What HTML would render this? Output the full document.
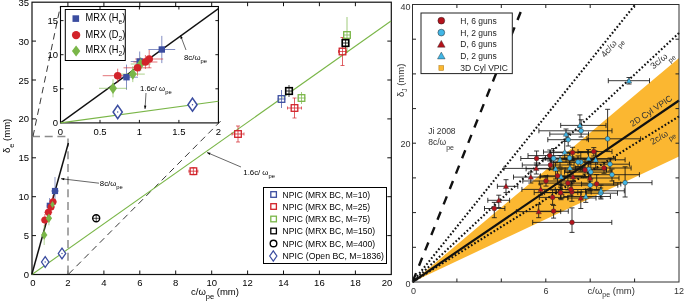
<!DOCTYPE html>
<html><head><meta charset="utf-8"><style>
html,body{margin:0;padding:0;background:#fff;}
svg{display:block;will-change:transform;font-family:"Liberation Sans",sans-serif;}
</style></head><body>
<svg width="685" height="302" viewBox="0 0 685 302">
<rect width="685" height="302" fill="#fff"/>
<rect x="32" y="2.2" width="359.3" height="272.3" fill="#fff" stroke="#111" stroke-width="1.2"/>
<path d="M67.9 274.5v-4M67.9 2.2v4" stroke="#111" stroke-width="1"/>
<path d="M103.9 274.5v-4M103.9 2.2v4" stroke="#111" stroke-width="1"/>
<path d="M139.8 274.5v-4M139.8 2.2v4" stroke="#111" stroke-width="1"/>
<path d="M175.7 274.5v-4M175.7 2.2v4" stroke="#111" stroke-width="1"/>
<path d="M211.7 274.5v-4M211.7 2.2v4" stroke="#111" stroke-width="1"/>
<path d="M247.6 274.5v-4M247.6 2.2v4" stroke="#111" stroke-width="1"/>
<path d="M283.5 274.5v-4M283.5 2.2v4" stroke="#111" stroke-width="1"/>
<path d="M319.4 274.5v-4M319.4 2.2v4" stroke="#111" stroke-width="1"/>
<path d="M355.4 274.5v-4M355.4 2.2v4" stroke="#111" stroke-width="1"/>
<path d="M32 235.6h4M391.3 235.6h-4" stroke="#111" stroke-width="1"/>
<path d="M32 196.7h4M391.3 196.7h-4" stroke="#111" stroke-width="1"/>
<path d="M32 157.8h4M391.3 157.8h-4" stroke="#111" stroke-width="1"/>
<path d="M32 118.9h4M391.3 118.9h-4" stroke="#111" stroke-width="1"/>
<path d="M32 80.0h4M391.3 80.0h-4" stroke="#111" stroke-width="1"/>
<path d="M32 41.1h4M391.3 41.1h-4" stroke="#111" stroke-width="1"/>
<text x="33.0" y="285.5" font-size="9.5" text-anchor="middle">0</text>
<text x="67.9" y="285.5" font-size="9.5" text-anchor="middle">2</text>
<text x="103.9" y="285.5" font-size="9.5" text-anchor="middle">4</text>
<text x="139.8" y="285.5" font-size="9.5" text-anchor="middle">6</text>
<text x="175.7" y="285.5" font-size="9.5" text-anchor="middle">8</text>
<text x="211.7" y="285.5" font-size="9.5" text-anchor="middle">10</text>
<text x="247.6" y="285.5" font-size="9.5" text-anchor="middle">12</text>
<text x="283.5" y="285.5" font-size="9.5" text-anchor="middle">14</text>
<text x="319.4" y="285.5" font-size="9.5" text-anchor="middle">16</text>
<text x="355.4" y="285.5" font-size="9.5" text-anchor="middle">18</text>
<text x="387.0" y="285.5" font-size="9.5" text-anchor="middle">20</text>
<text x="29" y="278.0" font-size="9.5" text-anchor="end">0</text>
<text x="29" y="239.1" font-size="9.5" text-anchor="end">5</text>
<text x="29" y="200.2" font-size="9.5" text-anchor="end">10</text>
<text x="29" y="161.3" font-size="9.5" text-anchor="end">15</text>
<text x="29" y="122.4" font-size="9.5" text-anchor="end">20</text>
<text x="29" y="83.5" font-size="9.5" text-anchor="end">25</text>
<text x="29" y="44.6" font-size="9.5" text-anchor="end">30</text>
<text x="29" y="5.7" font-size="9.5" text-anchor="end">35</text>
<text x="191" y="295" font-size="9.5">c/ω<tspan dy="4" font-size="7.5">pe</tspan><tspan dy="-4"> (mm)</tspan></text>
<text transform="translate(10,153) rotate(-90)" font-size="9.5">δ<tspan dy="4" font-size="7.5">e</tspan><tspan dy="-4"> (mm)</tspan></text>
<path d="M32 136.4H68V274" fill="none" stroke="#8c8c8c" stroke-width="1.5" stroke-dasharray="8 4.7"/>
<path d="M33 136.4L60.3 6.6" fill="none" stroke="#222" stroke-width="0.9" stroke-dasharray="6.5 4.5"/>
<path d="M68.7 274L222.5 119.2" fill="none" stroke="#222" stroke-width="0.9" stroke-dasharray="6.5 4.5"/>
<path d="M32 274.5L391 21" stroke="#7ab648" stroke-width="1.1" fill="none"/>
<path d="M31.8 274.5L68.4 143" stroke="#111" stroke-width="1.5" fill="none"/>
<path d="M51.0 191.0H59.0M55.0 177.0V205.0" stroke="#3b4da0" stroke-width="0.7" opacity="0.8" fill="none"/>
<path d="M46.5 206.0H52.5M49.5 198.0V214.0" stroke="#3b4da0" stroke-width="0.7" opacity="0.8" fill="none"/>
<path d="M49.0 202.0H57.0M53.0 195.0V209.0" stroke="#d2232a" stroke-width="0.7" opacity="0.8" fill="none"/>
<path d="M47.0 207.0H55.0M51.0 201.0V213.0" stroke="#d2232a" stroke-width="0.7" opacity="0.8" fill="none"/>
<path d="M44.3 212.3H52.3M48.3 206.3V218.3" stroke="#d2232a" stroke-width="0.7" opacity="0.8" fill="none"/>
<path d="M40.8 220.0H48.8M44.8 214.0V226.0" stroke="#d2232a" stroke-width="0.7" opacity="0.8" fill="none"/>
<path d="M41.2 235.0H47.2M44.2 225.0V245.0" stroke="#7ab648" stroke-width="0.7" opacity="0.8" fill="none"/>
<path d="M45.9 218.3H51.9M48.9 211.3V225.3" stroke="#7ab648" stroke-width="0.7" opacity="0.8" fill="none"/>
<path d="M51.0 204.0H55.0M53.0 198.0V210.0" stroke="#7ab648" stroke-width="0.7" opacity="0.8" fill="none"/>
<rect x="51.9" y="187.9" width="6.2" height="6.2" fill="#3b4da0"/>
<rect x="46.7" y="202.7" width="5.6" height="5.6" fill="#3b4da0"/>
<circle cx="53.0" cy="201.8" r="3.5" fill="#d2232a"/>
<circle cx="51.0" cy="207.0" r="3.5" fill="#d2232a"/>
<circle cx="48.3" cy="212.3" r="3.5" fill="#d2232a"/>
<circle cx="44.8" cy="220.0" r="3.5" fill="#d2232a"/>
<path d="M44.2 230.2l3.1 4.8l-3.1 4.8l-3.1 -4.8z" fill="#7ab648"/>
<path d="M48.9 213.5l3.1 4.8l-3.1 4.8l-3.1 -4.8z" fill="#7ab648"/>
<path d="M52.5 201.0l2.2 3.5l-2.2 3.5l-2.2 -3.5z" fill="#7ab648"/>
<path d="M45.2 256.7l3.7 5.3l-3.7 5.3l-3.7 -5.3z" fill="#fff" stroke="#3b4da0" stroke-width="1.3"/>
<circle cx="45.2" cy="262.0" r="0.7" fill="#3b4da0"/>
<path d="M62.0 248.2l3.7 5.3l-3.7 5.3l-3.7 -5.3z" fill="#fff" stroke="#3b4da0" stroke-width="1.3"/>
<circle cx="62.0" cy="253.5" r="0.7" fill="#3b4da0"/>
<circle cx="96.2" cy="218.3" r="3.5" fill="#fff" stroke="#000" stroke-width="1.4"/><path d="M92.7 218.3h7M96.2 214.8v7" stroke="#000" stroke-width="0.7"/>
<path d="M188.9 171.2H197.9M193.4 167.7V174.7" stroke="#d2232a" stroke-width="0.8" opacity="0.9" fill="none"/>
<path d="M191.4 174.7h4M191.4 167.7h4M188.9 169.7v3M197.9 169.7v3" stroke="#d2232a" stroke-width="0.7"/>
<path d="M232.0 134.0H244.0M238.0 126.0V142.0" stroke="#d2232a" stroke-width="0.8" opacity="0.9" fill="none"/>
<path d="M236 142h4M236 126h4M232 132.5v3M244 132.5v3" stroke="#d2232a" stroke-width="0.7"/>
<path d="M277.5 99.0H285.5M281.5 90.0V108.0" stroke="#3b4da0" stroke-width="0.8" opacity="0.9" fill="none"/>
<path d="M287.5 108.0H301.5M294.5 98.0V118.0" stroke="#d2232a" stroke-width="0.8" opacity="0.9" fill="none"/>
<path d="M292.5 118h4M292.5 98h4M287.5 106.5v3M301.5 106.5v3" stroke="#d2232a" stroke-width="0.7"/>
<path d="M297.5 98.0H305.5M301.5 92.0V104.0" stroke="#7ab648" stroke-width="0.8" opacity="0.9" fill="none"/>
<path d="M286.0 91.0H292.0M289.0 85.0V97.0" stroke="#000" stroke-width="0.8" opacity="0.9" fill="none"/>
<path d="M338.5 51.5H346.5M342.5 37.5V65.5" stroke="#d2232a" stroke-width="0.8" opacity="0.9" fill="none"/>
<path d="M340.5 65.5h4M340.5 37.5h4M338.5 50.0v3M346.5 50.0v3" stroke="#d2232a" stroke-width="0.7"/>
<path d="M344.0 35.0H350.0M347.0 17.0V53.0" stroke="#7ab648" stroke-width="0.8" opacity="0.9" fill="none"/>
<path d="M342.5 43.0H348.5M345.5 38.0V48.0" stroke="#000" stroke-width="0.8" opacity="0.9" fill="none"/>
<rect x="190.1" y="167.9" width="6.6" height="6.6" fill="#fff" fill-opacity="0.6" stroke="#d2232a" stroke-width="1.3"/>
<path d="M190.1 171.2h6.6M193.4 167.9v6.6" stroke="#d2232a" stroke-width="0.6"/>
<rect x="234.7" y="130.7" width="6.6" height="6.6" fill="#fff" fill-opacity="0.6" stroke="#d2232a" stroke-width="1.3"/>
<path d="M234.7 134.0h6.6M238.0 130.7v6.6" stroke="#d2232a" stroke-width="0.6"/>
<rect x="278.2" y="95.7" width="6.6" height="6.6" fill="#fff" fill-opacity="0.6" stroke="#3b4da0" stroke-width="1.3"/>
<path d="M278.2 99.0h6.6M281.5 95.7v6.6" stroke="#3b4da0" stroke-width="0.6"/>
<rect x="291.2" y="104.7" width="6.6" height="6.6" fill="#fff" fill-opacity="0.6" stroke="#d2232a" stroke-width="1.3"/>
<path d="M291.2 108.0h6.6M294.5 104.7v6.6" stroke="#d2232a" stroke-width="0.6"/>
<rect x="298.2" y="94.7" width="6.6" height="6.6" fill="#fff" fill-opacity="0.6" stroke="#7ab648" stroke-width="1.3"/>
<path d="M298.2 98.0h6.6M301.5 94.7v6.6" stroke="#7ab648" stroke-width="0.6"/>
<rect x="285.7" y="87.7" width="6.6" height="6.6" fill="#fff" fill-opacity="0.6" stroke="#000" stroke-width="1.6"/>
<path d="M285.7 91.0h6.6M289.0 87.7v6.6" stroke="#000" stroke-width="0.6"/>
<rect x="339.2" y="48.2" width="6.6" height="6.6" fill="#fff" fill-opacity="0.6" stroke="#d2232a" stroke-width="1.3"/>
<path d="M339.2 51.5h6.6M342.5 48.2v6.6" stroke="#d2232a" stroke-width="0.6"/>
<rect x="343.7" y="31.7" width="6.6" height="6.6" fill="#fff" fill-opacity="0.6" stroke="#7ab648" stroke-width="1.3"/>
<path d="M343.7 35.0h6.6M347.0 31.7v6.6" stroke="#7ab648" stroke-width="0.6"/>
<rect x="342.2" y="39.7" width="6.6" height="6.6" fill="#fff" fill-opacity="0.6" stroke="#000" stroke-width="1.6"/>
<path d="M342.2 43.0h6.6M345.5 39.7v6.6" stroke="#000" stroke-width="0.6"/>
<path d="M99.0 183.2L61.0 178.7" stroke="#000" stroke-width="0.6"/>
<path d="M61.0 178.7L64.4 177.9L64.1 180.3z" fill="#000"/>
<text x="99.8" y="186" font-size="7.8">8c/ω<tspan dy="3" font-size="5.8">pe</tspan></text>
<path d="M241.0 167.0L207.0 152.5" stroke="#000" stroke-width="0.6"/>
<path d="M207.0 152.5L210.5 152.7L209.6 154.9z" fill="#000"/>
<text x="243.3" y="174.5" font-size="7.8">1.6c/ ω<tspan dy="3" font-size="5.8">pe</tspan></text>
<rect x="263.5" y="187.5" width="123" height="76" fill="#fff" stroke="#000" stroke-width="1"/>
<rect x="270.8" y="191.7" width="5.6" height="5.6" fill="#fff" stroke="#3b4da0" stroke-width="1.3"/>
<text x="282.5" y="197.7" font-size="9" textLength="87.5" lengthAdjust="spacingAndGlyphs">NPIC (MRX BC, M=10)</text>
<rect x="270.8" y="203.7" width="5.6" height="5.6" fill="#fff" stroke="#d2232a" stroke-width="1.3"/>
<text x="282.5" y="209.7" font-size="9" textLength="87.5" lengthAdjust="spacingAndGlyphs">NPIC (MRX BC, M=25)</text>
<rect x="270.8" y="216.2" width="5.6" height="5.6" fill="#fff" stroke="#7ab648" stroke-width="1.3"/>
<text x="282.5" y="222.2" font-size="9" textLength="87.5" lengthAdjust="spacingAndGlyphs">NPIC (MRX BC, M=75)</text>
<rect x="270.8" y="228.2" width="5.6" height="5.6" fill="#fff" stroke="#000" stroke-width="1.3"/>
<text x="282.5" y="234.2" font-size="9" textLength="92.5" lengthAdjust="spacingAndGlyphs">NPIC (MRX BC, M=150)</text>
<circle cx="273.5" cy="243.5" r="3.3" fill="#fff" stroke="#000" stroke-width="1.4"/>
<text x="282.5" y="246.7" font-size="9" textLength="92.5" lengthAdjust="spacingAndGlyphs">NPIC (MRX BC, M=400)</text>
<path d="M273.3 250.9l3.6 5.1l-3.6 5.1l-3.6 -5.1z" fill="#fff" stroke="#3b4da0" stroke-width="1.2"/>
<text x="282.5" y="259.2" font-size="9" textLength="101.5" lengthAdjust="spacingAndGlyphs">NPIC (Open BC, M=1836)</text>
<rect x="60.5" y="6.5" width="157.9" height="116.4" fill="#fff" stroke="#000" stroke-width="1.1"/>
<path d="M100.0 122.9v-3M100.0 6.5v3" stroke="#000" stroke-width="0.9"/>
<path d="M139.4 122.9v-3M139.4 6.5v3" stroke="#000" stroke-width="0.9"/>
<path d="M178.9 122.9v-3M178.9 6.5v3" stroke="#000" stroke-width="0.9"/>
<path d="M60.5 88.8h3M218.4 88.8h-3" stroke="#000" stroke-width="0.9"/>
<path d="M60.5 54.7h3M218.4 54.7h-3" stroke="#000" stroke-width="0.9"/>
<path d="M60.5 20.6h3M218.4 20.6h-3" stroke="#000" stroke-width="0.9"/>
<text x="60.5" y="134.5" font-size="9.5" text-anchor="middle">0</text>
<text x="100.0" y="134.5" font-size="9.5" text-anchor="middle">0.5</text>
<text x="139.4" y="134.5" font-size="9.5" text-anchor="middle">1</text>
<text x="178.9" y="134.5" font-size="9.5" text-anchor="middle">1.5</text>
<text x="218.4" y="134.5" font-size="9.5" text-anchor="middle">2</text>
<text x="58" y="126.2" font-size="9.5" text-anchor="end">0</text>
<text x="58" y="92.1" font-size="9.5" text-anchor="end">5</text>
<text x="58" y="58.0" font-size="9.5" text-anchor="end">10</text>
<text x="58" y="23.9" font-size="9.5" text-anchor="end">15</text>
<path d="M60.5 122.9L218.4 8.6" stroke="#111" stroke-width="1.3"/>
<path d="M60.5 122.9L218.4 101.3" stroke="#7ab648" stroke-width="1.1"/>
<path d="M148.4 49.5H175.2M161.8 35.9V63.1" stroke="#3b4da0" stroke-width="0.9" opacity="0.7" fill="none"/>
<path d="M115.0 77.2H138.0M126.5 64.6V89.8" stroke="#3b4da0" stroke-width="0.9" opacity="0.7" fill="none"/>
<path d="M130.7 61.5H148.7M139.7 51.5V71.5" stroke="#3b4da0" stroke-width="0.9" opacity="0.7" fill="none"/>
<path d="M102.7 75.7H132.7M117.7 68.7V82.7" stroke="#d2232a" stroke-width="0.9" opacity="0.7" fill="none"/>
<path d="M123.5 67.8H151.5M137.5 59.8V75.8" stroke="#d2232a" stroke-width="0.9" opacity="0.7" fill="none"/>
<path d="M135.2 59.0H163.2M149.2 50.0V68.0" stroke="#d2232a" stroke-width="0.9" opacity="0.7" fill="none"/>
<path d="M133.4 62.0H157.4M145.4 55.0V69.0" stroke="#d2232a" stroke-width="0.9" opacity="0.7" fill="none"/>
<path d="M99.0 88.3H127.0M113.0 79.3V97.3" stroke="#7ab648" stroke-width="0.9" opacity="0.7" fill="none"/>
<path d="M120.8 74.1H144.8M132.8 66.1V82.1" stroke="#7ab648" stroke-width="0.9" opacity="0.7" fill="none"/>
<path d="M130.7 64.0H150.7M140.7 57.0V71.0" stroke="#7ab648" stroke-width="0.9" opacity="0.7" fill="none"/>
<rect x="158.6" y="46.3" width="6.4" height="6.4" fill="#3b4da0"/>
<rect x="123.3" y="74.0" width="6.4" height="6.4" fill="#3b4da0"/>
<rect x="136.5" y="58.3" width="6.4" height="6.4" fill="#3b4da0"/>
<path d="M113.0 82.7l4.0 5.6l-4.0 5.6l-4.0 -5.6z" fill="#7ab648"/>
<path d="M132.8 68.5l4.0 5.6l-4.0 5.6l-4.0 -5.6z" fill="#7ab648"/>
<path d="M140.7 58.4l4.0 5.6l-4.0 5.6l-4.0 -5.6z" fill="#7ab648"/>
<circle cx="117.7" cy="75.7" r="3.8" fill="#d2232a"/>
<circle cx="137.5" cy="67.8" r="3.8" fill="#d2232a"/>
<circle cx="149.2" cy="59.0" r="3.8" fill="#d2232a"/>
<circle cx="145.4" cy="62.0" r="3.8" fill="#d2232a"/>
<path d="M117.7 105.4l4.6 6.6l-4.6 6.6l-4.6 -6.6z" fill="#fff" stroke="#3b4da0" stroke-width="1.5"/>
<circle cx="117.7" cy="112.0" r="0.7" fill="#3b4da0"/>
<path d="M192.5 98.1l4.6 6.6l-4.6 6.6l-4.6 -6.6z" fill="#fff" stroke="#3b4da0" stroke-width="1.5"/>
<circle cx="192.5" cy="104.7" r="0.7" fill="#3b4da0"/>
<rect x="65.3" y="9.5" width="60" height="51" fill="#fff" stroke="#000" stroke-width="1"/>
<rect x="72.5" y="15.3" width="6.6" height="6.6" fill="#3b4da0"/>
<circle cx="76.1" cy="35.1" r="4.2" fill="#d2232a"/>
<path d="M76.1 45.4l4.2 5.5l-4.2 5.5l-4.2 -5.5z" fill="#7ab648"/>
<text transform="translate(85.5,21.2) scale(0.9,1)" font-size="10.3">MRX (H<tspan dy="3" font-size="7.5">e</tspan><tspan dy="-3">)</tspan></text>
<text transform="translate(85.5,37.5) scale(0.9,1)" font-size="10.3">MRX (D<tspan dy="3" font-size="7.5">2</tspan><tspan dy="-3">)</tspan></text>
<text transform="translate(85.5,53.4) scale(0.9,1)" font-size="10.3">MRX (H<tspan dy="3" font-size="7.5">2</tspan><tspan dy="-3">)</tspan></text>
<path d="M186.0 50.0L180.5 35.5" stroke="#000" stroke-width="0.6"/>
<path d="M180.5 35.5L182.8 38.1L180.5 39.0z" fill="#000"/>
<text x="184" y="60" font-size="7.8">8c/ω<tspan dy="3" font-size="5.8">pe</tspan></text>
<path d="M146.0 93.0L145.0 109.0" stroke="#000" stroke-width="0.6"/>
<path d="M145.0 109.0L144.0 105.6L146.4 105.8z" fill="#000"/>
<text x="140" y="90.5" font-size="7.8">1.6c/ ω<tspan dy="3" font-size="5.8">pe</tspan></text>
<rect x="412.5" y="4.5" width="266.5" height="277.5" fill="#fff"/>
<path d="M412.5 282L679 58L679 156.5z" fill="#fbb731"/>
<path d="M520.7 12L412.5 282" stroke="#111" stroke-width="2.4" stroke-dasharray="8.6 7.95" fill="none"/>
<path d="M634.5 5.5L412.5 282" stroke="#111" stroke-width="2.1" stroke-dasharray="1.7 2.1" fill="none"/>
<path d="M679 33L412.5 282" stroke="#111" stroke-width="2.1" stroke-dasharray="1.7 2.1" fill="none"/>
<path d="M679 116.4L412.5 282" stroke="#111" stroke-width="2.1" stroke-dasharray="1.7 2.1" fill="none"/>
<path d="M412.5 282L679 100.5" stroke="#111" stroke-width="2.2" fill="none"/>
<path d="M560.7 125.4H606.0M579.9 114.9V131.0M560.7 122.9v5M606.0 122.9v5M577.4 114.9h5M577.4 131.0h5" stroke="#151515" stroke-width="0.85" fill="none"/>
<path d="M538.9 130.8H612.0M581.1 119.8V137.0M538.9 128.3v5M612.0 128.3v5M578.6 119.8h5M578.6 137.0h5" stroke="#151515" stroke-width="0.85" fill="none"/>
<path d="M549.8 134.1H588.5M566.0 129.0V139.0M549.8 131.6v5M588.5 131.6v5M563.5 129.0h5M563.5 139.0h5" stroke="#151515" stroke-width="0.85" fill="none"/>
<path d="M547.8 139.7H588.5M568.2 133.0V146.0M547.8 137.2v5M588.5 137.2v5M565.7 133.0h5M565.7 146.0h5" stroke="#151515" stroke-width="0.85" fill="none"/>
<path d="M543.5 152.0H587.7M564.7 141.5V159.3M543.5 149.5v5M587.7 149.5v5M562.2 141.5h5M562.2 159.3h5" stroke="#151515" stroke-width="0.85" fill="none"/>
<path d="M550.5 152.6H596.0M572.6 147.3V160.2M550.5 150.1v5M596.0 150.1v5M570.1 147.3h5M570.1 160.2h5" stroke="#151515" stroke-width="0.85" fill="none"/>
<path d="M578.0 151.6H612.0M593.8 147.6V156.0M578.0 149.1v5M612.0 149.1v5M591.3 147.6h5M591.3 156.0h5" stroke="#151515" stroke-width="0.85" fill="none"/>
<path d="M528.0 155.6H570.0M549.8 150.0V161.0M528.0 153.1v5M570.0 153.1v5M547.3 150.0h5M547.3 161.0h5" stroke="#151515" stroke-width="0.85" fill="none"/>
<path d="M520.8 158.5H551.6M536.6 151.0V165.0M520.8 156.0v5M551.6 156.0v5M534.1 151.0h5M534.1 165.0h5" stroke="#151515" stroke-width="0.85" fill="none"/>
<path d="M545.5 158.0H596.3M569.6 153.3V164.1M545.5 155.5v5M596.3 155.5v5M567.1 153.3h5M567.1 164.1h5" stroke="#151515" stroke-width="0.85" fill="none"/>
<path d="M573.0 158.5H615.5M588.5 149.6V162.8M573.0 156.0v5M615.5 156.0v5M586.0 149.6h5M586.0 162.8h5" stroke="#151515" stroke-width="0.85" fill="none"/>
<path d="M566.0 159.8H625.1M595.7 151.2V168.1M566.0 157.3v5M625.1 157.3v5M593.2 151.2h5M593.2 168.1h5" stroke="#151515" stroke-width="0.85" fill="none"/>
<path d="M553.4 167.8H584.1M569.9 160.1V172.2M553.4 165.3v5M584.1 165.3v5M567.4 160.1h5M567.4 172.2h5" stroke="#151515" stroke-width="0.85" fill="none"/>
<path d="M543.0 159.8H577.9M560.0 155.6V167.0M543.0 157.3v5M577.9 157.3v5M557.5 155.6h5M557.5 167.0h5" stroke="#151515" stroke-width="0.85" fill="none"/>
<path d="M540.0 176.7H588.5M561.0 169.1V185.2M540.0 174.2v5M588.5 174.2v5M558.5 169.1h5M558.5 185.2h5" stroke="#151515" stroke-width="0.85" fill="none"/>
<path d="M563.8 196.5H610.4M585.8 189.3V202.4M563.8 194.0v5M610.4 194.0v5M583.3 189.3h5M583.3 202.4h5" stroke="#151515" stroke-width="0.85" fill="none"/>
<path d="M550.8 162.2H610.7M580.8 152.3V171.2M550.8 159.7v5M610.7 159.7v5M578.3 152.3h5M578.3 171.2h5" stroke="#151515" stroke-width="0.85" fill="none"/>
<path d="M569.8 169.4H606.5M588.8 163.4V173.9M569.8 166.9v5M606.5 166.9v5M586.3 163.4h5M586.3 173.9h5" stroke="#151515" stroke-width="0.85" fill="none"/>
<path d="M564.5 172.1H611.2M590.8 162.2V178.8M564.5 169.6v5M611.2 169.6v5M588.3 162.2h5M588.3 178.8h5" stroke="#151515" stroke-width="0.85" fill="none"/>
<path d="M588.0 164.2H629.4M610.0 158.0V171.0M588.0 161.7v5M629.4 161.7v5M607.5 158.0h5M607.5 171.0h5" stroke="#151515" stroke-width="0.85" fill="none"/>
<path d="M590.0 174.7H639.4M612.0 169.0V181.0M590.0 172.2v5M639.4 172.2v5M609.5 169.0h5M609.5 181.0h5" stroke="#151515" stroke-width="0.85" fill="none"/>
<path d="M613.6 182.7H652.0M625.1 166.8V197.0M613.6 180.2v5M652.0 180.2v5M622.6 166.8h5M622.6 197.0h5" stroke="#151515" stroke-width="0.85" fill="none"/>
<path d="M560.9 185.2H617.8M590.2 181.2V190.7M560.9 182.7v5M617.8 182.7v5M587.7 181.2h5M587.7 190.7h5" stroke="#151515" stroke-width="0.85" fill="none"/>
<path d="M586.3 193.2H617.5M600.7 188.0V198.0M586.3 190.7v5M617.5 190.7v5M598.2 188.0h5M598.2 198.0h5" stroke="#151515" stroke-width="0.85" fill="none"/>
<path d="M539.3 183.1H589.4M567.9 172.2V189.9M539.3 180.6v5M589.4 180.6v5M565.4 172.2h5M565.4 189.9h5" stroke="#151515" stroke-width="0.85" fill="none"/>
<path d="M581.5 184.0H620.8M596.7 174.6V189.9M581.5 181.5v5M620.8 181.5v5M594.2 174.6h5M594.2 189.9h5" stroke="#151515" stroke-width="0.85" fill="none"/>
<path d="M556.5 192.0H591.2M571.9 181.3V201.3M556.5 189.5v5M591.2 189.5v5M569.4 181.3h5M569.4 201.3h5" stroke="#151515" stroke-width="0.85" fill="none"/>
<path d="M557.0 176.7H590.8M572.9 172.0V181.1M557.0 174.2v5M590.8 174.2v5M570.4 172.0h5M570.4 181.1h5" stroke="#151515" stroke-width="0.85" fill="none"/>
<path d="M534.2 192.6H577.8M561.0 184.7V199.7M534.2 190.1v5M577.8 190.1v5M558.5 184.7h5M558.5 199.7h5" stroke="#151515" stroke-width="0.85" fill="none"/>
<path d="M567.9 198.0H596.0M580.8 192.0V208.5M567.9 195.5v5M596.0 195.5v5M578.3 192.0h5M578.3 208.5h5" stroke="#151515" stroke-width="0.85" fill="none"/>
<path d="M504.0 168.4H549.6M536.3 163.0V174.0M504.0 165.9v5M549.6 165.9v5M533.8 163.0h5M533.8 174.0h5" stroke="#151515" stroke-width="0.85" fill="none"/>
<path d="M513.5 177.1H547.6M530.8 172.0V183.0M513.5 174.6v5M547.6 174.6v5M528.3 172.0h5M528.3 183.0h5" stroke="#151515" stroke-width="0.85" fill="none"/>
<path d="M497.4 186.3H517.8M506.0 179.7V192.6M497.4 183.8v5M517.8 183.8v5M503.5 179.7h5M503.5 192.6h5" stroke="#151515" stroke-width="0.85" fill="none"/>
<path d="M521.9 189.4H560.0M540.7 184.0V195.0M521.9 186.9v5M560.0 186.9v5M538.2 184.0h5M538.2 195.0h5" stroke="#151515" stroke-width="0.85" fill="none"/>
<path d="M540.4 175.8H583.2M557.5 170.9V184.3M540.4 173.3v5M583.2 173.3v5M555.0 170.9h5M555.0 184.3h5" stroke="#151515" stroke-width="0.85" fill="none"/>
<path d="M544.6 192.6H581.2M560.5 187.1V198.5M544.6 190.1v5M581.2 190.1v5M558.0 187.1h5M558.0 198.5h5" stroke="#151515" stroke-width="0.85" fill="none"/>
<path d="M539.3 197.4H567.9M552.6 190.0V204.4M539.3 194.9v5M567.9 194.9v5M550.1 190.0h5M550.1 204.4h5" stroke="#151515" stroke-width="0.85" fill="none"/>
<path d="M526.1 168.8H582.5M555.6 162.7V179.0M526.1 166.3v5M582.5 166.3v5M553.1 162.7h5M553.1 179.0h5" stroke="#151515" stroke-width="0.85" fill="none"/>
<path d="M536.2 158.5H573.9M553.6 148.5V167.0M536.2 156.0v5M573.9 156.0v5M551.1 148.5h5M551.1 167.0h5" stroke="#151515" stroke-width="0.85" fill="none"/>
<path d="M487.8 200.3H509.6M498.8 195.2V207.5M487.8 197.8v5M509.6 197.8v5M496.3 195.2h5M496.3 207.5h5" stroke="#151515" stroke-width="0.85" fill="none"/>
<path d="M484.5 208.5H504.9M494.3 202.4V217.7M484.5 206.0v5M504.9 206.0v5M491.8 202.4h5M491.8 217.7h5" stroke="#151515" stroke-width="0.85" fill="none"/>
<path d="M516.4 211.6H560.7M538.7 204.4V217.7M516.4 209.1v5M560.7 209.1v5M536.2 204.4h5M536.2 217.7h5" stroke="#151515" stroke-width="0.85" fill="none"/>
<path d="M538.2 211.2H568.3M553.6 205.4V218.1M538.2 208.7v5M568.3 208.7v5M551.1 205.4h5M551.1 218.1h5" stroke="#151515" stroke-width="0.85" fill="none"/>
<path d="M532.7 222.4H611.8M572.0 207.9V232.4M532.7 219.9v5M611.8 219.9v5M569.5 207.9h5M569.5 232.4h5" stroke="#151515" stroke-width="0.85" fill="none"/>
<path d="M555.3 189.5H600.7M570.9 184.0V195.3M555.3 187.0v5M600.7 187.0v5M568.4 184.0h5M568.4 195.3h5" stroke="#151515" stroke-width="0.85" fill="none"/>
<path d="M587.0 138.8H640.6M607.6 109.3V151.0M587.0 136.3v5M640.6 136.3v5M605.1 109.3h5M605.1 151.0h5" stroke="#151515" stroke-width="0.85" fill="none"/>
<path d="M608.3 80.7H649.5M629.0 77.5V84.0M608.3 78.2v5M649.5 78.2v5M626.5 77.5h5M626.5 84.0h5" stroke="#151515" stroke-width="0.85" fill="none"/>
<path d="M551.6 162.0H597.3M578.0 155.9V166.5M551.6 159.5v5M597.3 159.5v5M575.5 155.9h5M575.5 166.5h5" stroke="#151515" stroke-width="0.85" fill="none"/>
<path d="M585.6 190.8H624.3M601.0 185.1V199.0M585.6 188.3v5M624.3 188.3v5M598.5 185.1h5M598.5 199.0h5" stroke="#151515" stroke-width="0.85" fill="none"/>
<path d="M565.1 170.0H606.3M585.0 159.3V177.4M565.1 167.5v5M606.3 167.5v5M582.5 159.3h5M582.5 177.4h5" stroke="#151515" stroke-width="0.85" fill="none"/>
<path d="M522.8 181.0H573.9M546.0 175.7V186.1M522.8 178.5v5M573.9 178.5v5M543.5 175.7h5M543.5 186.1h5" stroke="#151515" stroke-width="0.85" fill="none"/>
<path d="M575.5 168.0H631.1M604.0 162.3V173.3M575.5 165.5v5M631.1 165.5v5M601.5 162.3h5M601.5 173.3h5" stroke="#151515" stroke-width="0.85" fill="none"/>
<path d="M564.2 178.0H619.0M590.0 172.6V188.7M564.2 175.5v5M619.0 175.5v5M587.5 172.6h5M587.5 188.7h5" stroke="#151515" stroke-width="0.85" fill="none"/>
<path d="M522.3 165.0H574.1M550.4 158.0V169.7M522.3 162.5v5M574.1 162.5v5M547.9 158.0h5M547.9 169.7h5" stroke="#151515" stroke-width="0.85" fill="none"/>
<path d="M579.9 122.7L582.6 127.6H577.2z" fill="#41b6e6" stroke="#333" stroke-width="0.4"/>
<circle cx="581.1" cy="130.8" r="2.4" fill="#41b6e6" stroke="#333" stroke-width="0.5"/>
<path d="M566.0 131.4L568.7 136.3H563.3z" fill="#41b6e6" stroke="#333" stroke-width="0.4"/>
<circle cx="568.2" cy="139.7" r="2.4" fill="#41b6e6" stroke="#333" stroke-width="0.5"/>
<path d="M564.7 149.3L567.4 154.2H562.0z" fill="#41b6e6" stroke="#333" stroke-width="0.4"/>
<circle cx="572.6" cy="152.6" r="2.4" fill="#b5121b" stroke="#333" stroke-width="0.5"/>
<circle cx="593.8" cy="151.6" r="2.4" fill="#b5121b" stroke="#333" stroke-width="0.5"/>
<circle cx="549.8" cy="155.6" r="2.4" fill="#b5121b" stroke="#333" stroke-width="0.5"/>
<circle cx="536.6" cy="158.5" r="2.4" fill="#b5121b" stroke="#333" stroke-width="0.5"/>
<circle cx="569.6" cy="158.0" r="2.4" fill="#41b6e6" stroke="#333" stroke-width="0.5"/>
<path d="M588.5 155.8L591.2 160.7H585.8z" fill="#41b6e6" stroke="#333" stroke-width="0.4"/>
<path d="M595.7 157.1L598.4 162.0H593.0z" fill="#41b6e6" stroke="#333" stroke-width="0.4"/>
<path d="M569.9 165.1L572.6 170.0H567.2z" fill="#41b6e6" stroke="#333" stroke-width="0.4"/>
<path d="M560.0 157.1L562.7 162.0H557.3z" fill="#41b6e6" stroke="#333" stroke-width="0.4"/>
<path d="M561.0 174.0L563.7 178.9H558.3z" fill="#41b6e6" stroke="#333" stroke-width="0.4"/>
<path d="M585.8 193.8L588.5 198.7H583.1z" fill="#41b6e6" stroke="#333" stroke-width="0.4"/>
<circle cx="580.8" cy="162.2" r="2.4" fill="#41b6e6" stroke="#333" stroke-width="0.5"/>
<circle cx="588.8" cy="169.4" r="2.4" fill="#41b6e6" stroke="#333" stroke-width="0.5"/>
<circle cx="590.8" cy="172.1" r="2.4" fill="#41b6e6" stroke="#333" stroke-width="0.5"/>
<circle cx="610.0" cy="164.2" r="2.4" fill="#41b6e6" stroke="#333" stroke-width="0.5"/>
<circle cx="612.0" cy="174.7" r="2.4" fill="#41b6e6" stroke="#333" stroke-width="0.5"/>
<circle cx="625.1" cy="182.7" r="2.4" fill="#41b6e6" stroke="#333" stroke-width="0.5"/>
<circle cx="590.2" cy="185.2" r="2.4" fill="#41b6e6" stroke="#333" stroke-width="0.5"/>
<circle cx="600.7" cy="193.2" r="2.4" fill="#41b6e6" stroke="#333" stroke-width="0.5"/>
<circle cx="567.9" cy="183.1" r="2.4" fill="#b5121b" stroke="#333" stroke-width="0.5"/>
<circle cx="596.7" cy="184.0" r="2.4" fill="#b5121b" stroke="#333" stroke-width="0.5"/>
<circle cx="571.9" cy="192.0" r="2.4" fill="#b5121b" stroke="#333" stroke-width="0.5"/>
<path d="M572.9 174.0L575.6 178.9H570.2z" fill="#b5121b" stroke="#333" stroke-width="0.4"/>
<path d="M561.0 189.9L563.7 194.8H558.3z" fill="#b5121b" stroke="#333" stroke-width="0.4"/>
<path d="M580.8 195.3L583.5 200.2H578.1z" fill="#b5121b" stroke="#333" stroke-width="0.4"/>
<path d="M536.3 165.7L539.0 170.6H533.6z" fill="#b5121b" stroke="#333" stroke-width="0.4"/>
<path d="M530.8 174.4L533.5 179.3H528.1z" fill="#b5121b" stroke="#333" stroke-width="0.4"/>
<path d="M506.0 183.6L508.7 188.5H503.3z" fill="#b5121b" stroke="#333" stroke-width="0.4"/>
<path d="M540.7 186.7L543.4 191.6H538.0z" fill="#b5121b" stroke="#333" stroke-width="0.4"/>
<circle cx="557.5" cy="175.8" r="2.4" fill="#b5121b" stroke="#333" stroke-width="0.5"/>
<circle cx="560.5" cy="192.6" r="2.4" fill="#b5121b" stroke="#333" stroke-width="0.5"/>
<circle cx="552.6" cy="197.4" r="2.4" fill="#b5121b" stroke="#333" stroke-width="0.5"/>
<path d="M555.6 166.1L558.3 171.0H552.9z" fill="#41b6e6" stroke="#333" stroke-width="0.4"/>
<circle cx="553.6" cy="158.5" r="2.4" fill="#41b6e6" stroke="#333" stroke-width="0.5"/>
<path d="M498.8 197.6L501.5 202.5H496.1z" fill="#b5121b" stroke="#333" stroke-width="0.4"/>
<circle cx="494.3" cy="208.5" r="2.4" fill="#b5121b" stroke="#333" stroke-width="0.5"/>
<path d="M538.7 208.9L541.4 213.8H536.0z" fill="#b5121b" stroke="#333" stroke-width="0.4"/>
<circle cx="553.6" cy="211.2" r="2.4" fill="#b5121b" stroke="#333" stroke-width="0.5"/>
<circle cx="572.0" cy="222.4" r="2.4" fill="#b5121b" stroke="#333" stroke-width="0.5"/>
<circle cx="570.9" cy="189.5" r="2.4" fill="#b5121b" stroke="#333" stroke-width="0.5"/>
<circle cx="607.6" cy="138.8" r="2.4" fill="#41b6e6" stroke="#333" stroke-width="0.5"/>
<path d="M629.0 78.0L631.7 82.9H626.3z" fill="#41b6e6" stroke="#333" stroke-width="0.4"/>
<circle cx="578.0" cy="162.0" r="2.4" fill="#41b6e6" stroke="#333" stroke-width="0.5"/>
<path d="M601.0 188.1L603.7 193.0H598.3z" fill="#41b6e6" stroke="#333" stroke-width="0.4"/>
<circle cx="585.0" cy="170.0" r="2.4" fill="#b5121b" stroke="#333" stroke-width="0.5"/>
<circle cx="546.0" cy="181.0" r="2.4" fill="#b5121b" stroke="#333" stroke-width="0.5"/>
<circle cx="604.0" cy="168.0" r="2.4" fill="#b5121b" stroke="#333" stroke-width="0.5"/>
<path d="M590.0 175.3L592.7 180.2H587.3z" fill="#b5121b" stroke="#333" stroke-width="0.4"/>
<circle cx="550.4" cy="165.0" r="2.4" fill="#b5121b" stroke="#333" stroke-width="0.5"/>
<rect x="412.5" y="4.5" width="266.5" height="277.5" fill="none" stroke="#303030" stroke-width="1"/>
<path d="M456.9 282v-3.5M456.9 4.5v3.5" stroke="#222" stroke-width="1"/>
<path d="M501.3 282v-3.5M501.3 4.5v3.5" stroke="#222" stroke-width="1"/>
<path d="M545.8 282v-3.5M545.8 4.5v3.5" stroke="#222" stroke-width="1"/>
<path d="M590.2 282v-3.5M590.2 4.5v3.5" stroke="#222" stroke-width="1"/>
<path d="M634.6 282v-3.5M634.6 4.5v3.5" stroke="#222" stroke-width="1"/>
<path d="M412.5 247.3h3.5M679 247.3h-3.5" stroke="#222" stroke-width="1"/>
<path d="M412.5 212.6h3.5M679 212.6h-3.5" stroke="#222" stroke-width="1"/>
<path d="M412.5 177.9h3.5M679 177.9h-3.5" stroke="#222" stroke-width="1"/>
<path d="M412.5 143.2h3.5M679 143.2h-3.5" stroke="#222" stroke-width="1"/>
<path d="M412.5 108.6h3.5M679 108.6h-3.5" stroke="#222" stroke-width="1"/>
<path d="M412.5 73.9h3.5M679 73.9h-3.5" stroke="#222" stroke-width="1"/>
<path d="M412.5 39.2h3.5M679 39.2h-3.5" stroke="#222" stroke-width="1"/>
<text x="410.5" y="9.5" font-size="9" text-anchor="end" fill="#333">40</text>
<text x="410.5" y="146.9" font-size="9" text-anchor="end" fill="#333">20</text>
<text x="410.5" y="286.5" font-size="9" text-anchor="end" fill="#333">0</text>
<text x="413.5" y="294" font-size="9" text-anchor="middle" fill="#333">0</text>
<text x="546" y="294" font-size="9" text-anchor="middle" fill="#333">6</text>
<text x="679" y="294" font-size="9" text-anchor="middle" fill="#333">12</text>
<text x="587.5" y="293.5" font-size="9.5" fill="#333">c/ω<tspan dy="3.5" font-size="7">pe</tspan><tspan dy="-3.5"> (mm)</tspan></text>
<text transform="translate(404.3,97) rotate(-90)" font-size="9.5" fill="#333">δ<tspan dy="2.5" font-size="6.5">J</tspan><tspan dy="-2.5"> (mm)</tspan></text>
<text x="428.2" y="133.7" font-size="8.5" fill="#333">Ji 2008</text>
<text x="428.2" y="145.2" font-size="8.5" fill="#333">8c/ω<tspan dy="4.3" font-size="7">pe</tspan></text>
<text transform="translate(605,58) rotate(-50)" font-size="9" fill="#333">4c/ω<tspan dx="-2" dy="6" font-size="7">pe</tspan></text>
<text transform="translate(653.5,69.5) rotate(-40)" font-size="9" fill="#333">3c/ω<tspan dx="-2" dy="6" font-size="7">pe</tspan></text>
<text transform="translate(632.5,127) rotate(-34)" font-size="8.7" fill="#333">2D Cyl VPIC</text>
<text transform="translate(652.5,145) rotate(-31)" font-size="9" fill="#333">2c/ω<tspan dx="-2" dy="6" font-size="7">pe</tspan></text>
<rect x="421" y="13" width="91.3" height="60.6" fill="#fff" stroke="#222" stroke-width="1"/>
<circle cx="441.3" cy="20.7" r="3.4" fill="#b5121b" stroke="#222" stroke-width="0.5"/>
<circle cx="441.3" cy="32.6" r="3.4" fill="#41b6e6" stroke="#222" stroke-width="0.5"/>
<path d="M441.3 40.4L445.1 47.2H437.5z" fill="#b5121b" stroke="#222" stroke-width="0.4"/>
<path d="M441.3 52.1L445.1 58.9H437.5z" fill="#41b6e6" stroke="#222" stroke-width="0.4"/>
<rect x="438.9" y="65.6" width="4.8" height="4.8" fill="#fbb731" stroke="#a87410" stroke-width="0.5"/>
<text x="460.3" y="23.7" font-size="8.5" fill="#222">H, 6 guns</text>
<text x="460.3" y="35.6" font-size="8.5" fill="#222">H, 2 guns</text>
<text x="460.3" y="47.2" font-size="8.5" fill="#222">D, 6 guns</text>
<text x="460.3" y="58.9" font-size="8.5" fill="#222">D, 2 guns</text>
<text x="460.3" y="70.8" font-size="8.5" fill="#222">3D Cyl VPIC</text>
</svg></body></html>
